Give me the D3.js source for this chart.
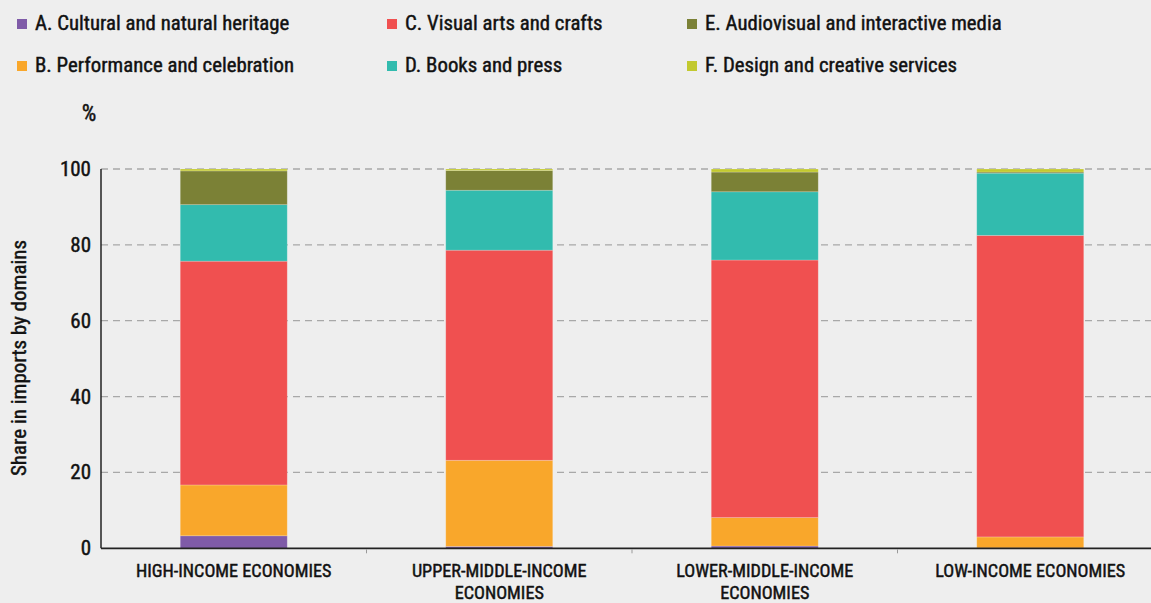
<!DOCTYPE html>
<html><head><meta charset="utf-8">
<script src="https://cdn.jsdelivr.net/npm/d3@7"></script>
<style>
html,body{margin:0;padding:0;background:#eeeeee;}
svg{display:block;font-family:"Liberation Sans Narrow","Arial Narrow","Roboto Condensed","Liberation Sans",sans-serif;}
text{stroke:#111;stroke-width:0.45px;}
</style></head>
<body><svg id="c" width="1151" height="603"></svg>
<script>
const categories = [["HIGH-INCOME ECONOMIES"],["UPPER-MIDDLE-INCOME","ECONOMIES"],["LOWER-MIDDLE-INCOME","ECONOMIES"],["LOW-INCOME ECONOMIES"]];
const seriesNames = ["A. Cultural and natural heritage","B. Performance and celebration","C. Visual arts and crafts","D. Books and press","E. Audiovisual and interactive media","F. Design and creative services"];
const seriesA = [3.3, 0.5, 0.6, 0.1];
const seriesB = [13.4, 22.7, 7.5, 2.9];
const seriesC = [59.0, 55.4, 67.9, 79.5];
const seriesD = [14.9, 15.8, 18.0, 16.4];
const seriesE = [8.9, 5.2, 5.2, 0.3];
const seriesF = [0.5, 0.4, 0.8, 0.8];
const yTicks = [0, 20, 40, 60, 80, 100];
const colors = ["#7f5ba8","#f9a72b","#f05050","#32bbae","#7b8136","#c2c92f"];

const svg = d3.select("#c");
const x0 = 101, y0 = 548.3, yTop = 169;
const x = d3.scaleBand().domain(d3.range(categories.length)).range([x0, x0 + 4*265.5]).paddingInner(0.597).paddingOuter(0.2985);
const y = d3.scaleLinear().domain([0,100]).range([y0, yTop]);

const allSeries = [seriesA, seriesB, seriesC, seriesD, seriesE, seriesF];
const rows = categories.map((c,i)=>{const o={i}; allSeries.forEach((s,k)=>o["s"+k]=s[i]); return o;});
const stack = d3.stack().keys(allSeries.map((s,k)=>"s"+k))(rows);

// grid
svg.append("g").selectAll("line").data(yTicks.filter(d=>d>0)).join("line")
  .attr("x1", x0).attr("x2", 1151).attr("y1", d=>y(d)).attr("y2", d=>y(d))
  .attr("stroke", "#a8a8a8").attr("stroke-width", 1.3).attr("stroke-dasharray", "7,5");

// bars
const layers = svg.append("g").selectAll("g").data(stack).join("g").attr("fill",(d,k)=>colors[k]);
layers.selectAll("rect").data(d=>d).join("rect")
  .attr("x", d=>x(d.data.i)).attr("width", x.bandwidth())
  .attr("y", d=>y(d[1])).attr("height", d=>Math.max(0, y(d[0])-y(d[1])))
  .attr("stroke", "rgba(255,255,255,0.25)").attr("stroke-width", 0.8);

// axes
svg.append("line").attr("x1", x0).attr("x2", x0).attr("y1", yTop).attr("y2", y0).attr("stroke", "#222").attr("stroke-width", 1.5);
svg.append("line").attr("x1", x0).attr("x2", 1151).attr("y1", y0).attr("y2", y0).attr("stroke", "#222").attr("stroke-width", 1.8);
svg.append("g").selectAll("line").data([1,2,3]).join("line")
  .attr("x1", d=>x0 + d*265.5).attr("x2", d=>x0 + d*265.5).attr("y1", y0+1).attr("y2", y0+5)
  .attr("stroke", "#999").attr("stroke-width", 1);

// y tick labels
svg.append("g").selectAll("text").data(yTicks).join("text")
  .attr("x", 91).attr("y", d=>y(d)+7).attr("text-anchor","end")
  .attr("font-size", 21).attr("fill", "#111").text(d=>d);

// y title
svg.append("text").attr("transform", "translate(26,358) rotate(-90)").attr("text-anchor","middle")
  .attr("font-size", 21).attr("fill", "#111").text("Share in imports by domains");
svg.append("text").attr("x", 89).attr("y", 121).attr("text-anchor","middle").attr("font-size", 23).attr("fill","#111").text("%");

// x labels
const xl = svg.append("g").selectAll("text").data(categories).join("text")
  .attr("x", (d,i)=>x(i)+x.bandwidth()/2).attr("y", 577).attr("text-anchor","middle")
  .attr("font-size", 18.2).attr("fill","#111");
xl.selectAll("tspan").data(d=>d).join("tspan")
  .attr("x", function(){return this.parentNode.getAttribute("x");})
  .attr("dy", (d,j)=>j===0?0:21.5).text(d=>d);

// legend
const legPos = [[17,19],[17,61],[387,19],[387,61],[687,19],[687,61]];
const lg = svg.append("g").selectAll("g").data(seriesNames).join("g")
  .attr("transform", (d,k)=>`translate(${legPos[k][0]},${legPos[k][1]})`);
lg.append("rect").attr("width", 10).attr("height", 10).attr("fill", (d,k)=>colors[k]);
lg.append("text").attr("x", 18).attr("y", 11).attr("font-size", 20.8).attr("fill","#111").text(d=>d);
</script></body></html>
